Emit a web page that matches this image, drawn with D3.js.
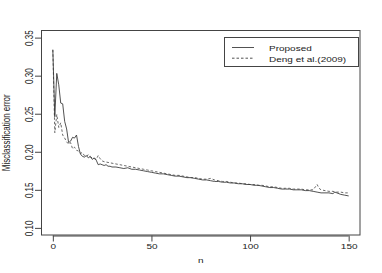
<!DOCTYPE html>
<html><head><meta charset="utf-8">
<script src="https://cdn.jsdelivr.net/npm/d3@7"></script>
<style>
html,body{margin:0;padding:0;background:#fff;}
svg{display:block;font-family:"Liberation Sans",Arial,sans-serif;}
</style></head>
<body><svg id="c" width="382" height="273"></svg>
<script>
// ---- data ----
const propN = [0,1,2,3,4,5,6,7,8,9,10,11,12,13,14,15,16,17,18,19,20,21,22,23,24,25,26,27,28,29,30,32,34,36,38,40,42,44,46,48,50,52,54,56,58,60,62,64,66,68,70,72,74,76,78,80,82,84,86,88,90,92,94,96,98,100,102,104,106,108,110,112,114,116,118,120,122,124,126,128,130,132,134,136,138,140,142,143,144,146,148,150];
const propV = [0.334,0.246,0.303,0.288,0.264,0.263,0.240,0.230,0.212,0.214,0.219,0.218,0.222,0.207,0.197,0.194,0.193,0.195,0.192,0.194,0.190,0.192,0.189,0.183,0.184,0.183,0.182,0.183,0.181,0.181,0.180,0.180,0.179,0.178,0.179,0.177,0.177,0.176,0.175,0.174,0.173,0.172,0.171,0.171,0.170,0.169,0.168,0.168,0.167,0.166,0.166,0.165,0.164,0.163,0.163,0.162,0.161,0.161,0.160,0.160,0.159,0.159,0.158,0.158,0.157,0.157,0.156,0.156,0.155,0.154,0.153,0.153,0.152,0.151,0.151,0.151,0.150,0.150,0.150,0.149,0.149,0.148,0.147,0.146,0.146,0.146,0.145,0.147,0.146,0.144,0.143,0.142];
const dengN = [0,1,2,3,4,5,6,7,8,9,10,11,12,13,14,15,16,17,18,19,20,21,22,23,24,25,26,28,30,32,34,36,38,40,42,44,46,48,50,52,54,56,58,60,62,64,66,68,70,72,74,76,78,80,82,84,86,88,90,92,94,96,98,100,102,104,106,108,110,112,114,116,118,120,122,124,126,128,130,132,134,135,136,138,140,142,144,146,148,150];
const dengV = [0.334,0.225,0.249,0.232,0.238,0.222,0.218,0.213,0.210,0.212,0.204,0.206,0.202,0.201,0.198,0.199,0.195,0.194,0.196,0.193,0.192,0.191,0.190,0.195,0.191,0.188,0.187,0.186,0.185,0.184,0.183,0.182,0.181,0.180,0.179,0.178,0.177,0.176,0.175,0.174,0.173,0.172,0.171,0.170,0.169,0.169,0.168,0.167,0.166,0.166,0.165,0.164,0.164,0.165,0.163,0.162,0.161,0.161,0.160,0.159,0.159,0.158,0.158,0.157,0.157,0.156,0.156,0.155,0.154,0.154,0.153,0.152,0.152,0.152,0.151,0.151,0.151,0.150,0.150,0.150,0.157,0.152,0.150,0.149,0.148,0.148,0.147,0.147,0.146,0.146];
const xTicks = [0,50,100,150];
const yTicks = [0.10,0.15,0.20,0.25,0.30,0.35];
const seriesNames = ["Proposed","Deng et al.(2009)"];
const xLabel = "n", yLabel = "Misclassification error";

// ---- layout ----
const L = 41, R = 360.5, T = 30, B = 235.5;
const svg = d3.select("#c");
const x = d3.scaleLinear().domain([-6,156]).range([L,R]);
const y = d3.scaleLinear().domain([0.09,0.36]).range([B,T]);
const SQ = 0.8; // vertical squeeze of glyphs

// box
svg.append("rect").attr("x",L+0.5).attr("y",T+0.5).attr("width",R-L-1).attr("height",B-T-1)
  .attr("fill","none").attr("stroke","#444").attr("stroke-width",1);

// axes
const xAxis = d3.axisBottom(x).tickValues(xTicks).tickSize(6).tickPadding(2).tickFormat(d3.format("d"));
const gx = svg.append("g").attr("transform",`translate(0,${B})`).call(xAxis);
gx.select(".domain").attr("d",`M${x(0)},0.5H${x(150)}`).attr("stroke","#444");
gx.selectAll(".tick line").attr("stroke","#444");
gx.selectAll(".tick text").attr("font-size",10).attr("fill","#222").attr("dy",null).attr("y",0)
  .attr("transform",function(){return `translate(0,${13.5}) scale(1,${SQ})`;});

const yAxis = d3.axisLeft(y).tickValues(yTicks).tickSize(6).tickFormat(d3.format(".2f"));
const gy = svg.append("g").attr("transform",`translate(${L},0)`).call(yAxis);
gy.select(".domain").attr("d",`M0.5,${y(0.10)}V${y(0.35)}`).attr("stroke","#444");
gy.selectAll(".tick line").attr("stroke","#444");
gy.selectAll(".tick text").attr("x",null).attr("dy",null).attr("font-size",10).attr("fill","#222")
  .attr("text-anchor","middle")
  .attr("transform",`translate(-8,0) rotate(-90) scale(${SQ},1)`);

// axis titles
svg.append("text").attr("x",(L+R)/2).attr("y",0).attr("text-anchor","middle").attr("font-size",10)
  .attr("fill","#222").attr("transform",`translate(0,262.5) scale(1,${SQ})`).text(xLabel);
svg.append("text").attr("text-anchor","middle").attr("font-size",10).attr("fill","#222")
  .attr("transform",`translate(10,${(T+B)/2}) rotate(-90) scale(${SQ},1)`).text(yLabel);

// lines
const line = d3.line().x(d=>x(d[0])).y(d=>y(d[1]));
const propData = propN.map((n,i)=>[n,propV[i]]);
const dengData = dengN.map((n,i)=>[n,dengV[i]]);
svg.append("path").datum(dengData).attr("d",line).attr("fill","none").attr("stroke","#444")
  .attr("stroke-width",0.8).attr("stroke-dasharray","2.5,2");
svg.append("path").datum(propData).attr("d",line).attr("fill","none").attr("stroke","#333")
  .attr("stroke-width",0.85);

// legend
const lg = svg.append("g");
lg.append("rect").attr("x",224.5).attr("y",37.5).attr("width",134).attr("height",29)
  .attr("fill","#fff").attr("stroke","#444").attr("stroke-width",1);
const dashes = [null,"2.5,2"];
seriesNames.forEach((s,i)=>{
  const yy = 47.5 + i*10.7;
  lg.append("line").attr("x1",232).attr("x2",254).attr("y1",yy).attr("y2",yy)
    .attr("stroke","#333").attr("stroke-width",0.85).attr("stroke-dasharray",dashes[i]);
  lg.append("text").attr("x",269).attr("y",0).attr("font-size",10).attr("fill","#222")
    .attr("transform",`translate(0,${yy+3.5}) scale(1,${SQ})`).text(s);
});
</script></body></html>
